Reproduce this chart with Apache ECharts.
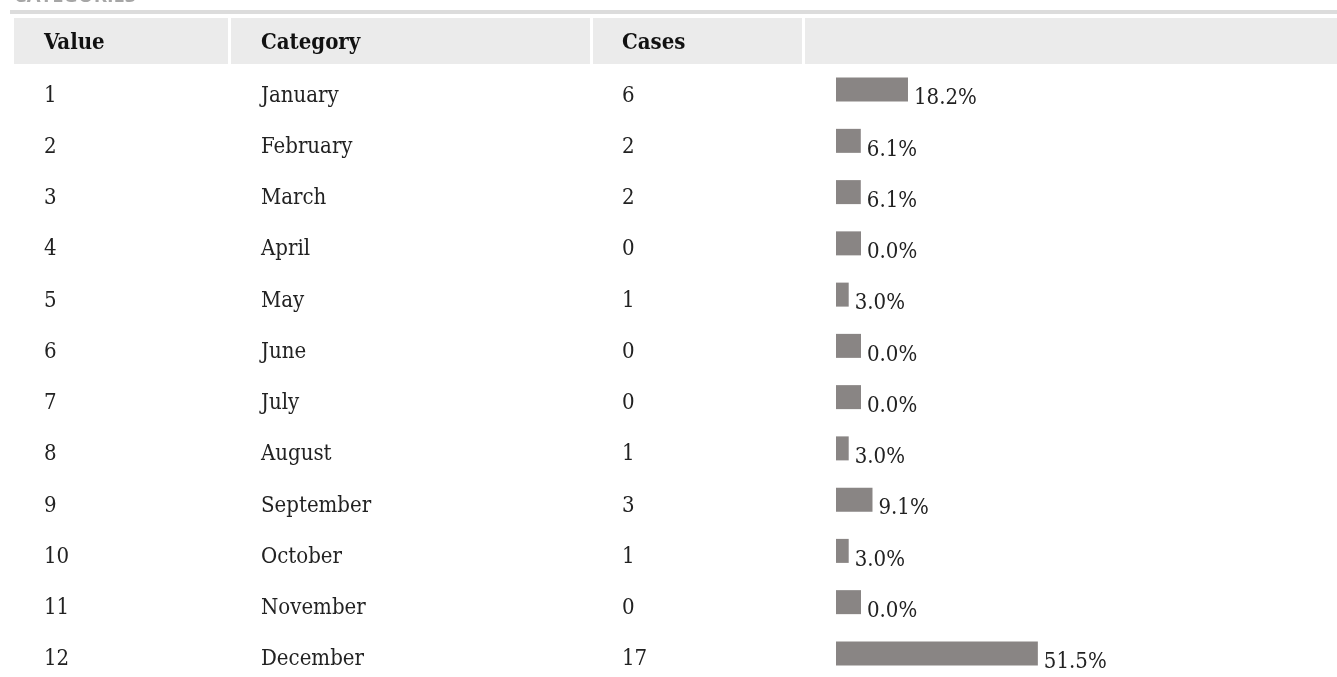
<!DOCTYPE html>
<html>
<head>
<meta charset="utf-8">
<script src="https://cdn.jsdelivr.net/npm/echarts@6/dist/echarts.min.js"></script>
<style>
  html, body { margin: 0; padding: 0; background: #fff; }
  #categories { width: 1337px; height: 677px; }
</style>
</head>
<body>
<div id="categories"></div>
<script>
// table data
var values = ["1", "2", "3", "4", "5", "6", "7", "8", "9", "10", "11", "12"];
var categories = ["January", "February", "March", "April", "May", "June",
  "July", "August", "September", "October", "November", "December"];
var cases = [6, 2, 2, 0, 1, 0, 0, 1, 3, 1, 0, 17];
var percents = [18.2, 6.1, 6.1, 0.0, 3.0, 0.0, 0.0, 3.0, 9.1, 3.0, 0.0, 51.5];
var headers = ["Value", "Category", "Cases"];

var serif = "'DejaVu Serif Condensed', 'DejaVu Serif', serif";
var chartDom = document.getElementById("categories");
var myChart = echarts.init(chartDom);
var option;

// header cells: [x, width]
var headCells = [[14, 214], [231, 359], [593, 209], [805, 532]];
var headGraphic = [
  {
    type: "text", left: 14, top: -14,
    style: { text: "CATEGORIES", fill: "#a6a6a6", font: "bold 20px 'Open Sans', sans-serif" }
  },
  { type: "rect", shape: { x: 10, y: 10, width: 1327, height: 4 }, style: { fill: "#dcdcdc" } }
];
headCells.forEach(function (c) {
  headGraphic.push({ type: "rect", shape: { x: c[0], y: 18, width: c[1], height: 46 }, style: { fill: "#ebebeb" } });
});
var headX = [44, 261, 622];
headers.forEach(function (h, i) {
  headGraphic.push({
    type: "text", x: headX[i], y: 43,
    style: { text: h, fill: "#111", font: "bold 22px " + serif, verticalAlign: "middle" }
  });
});

option = {
  animation: false,
  graphic: headGraphic,
  // rows sit on the category points (boundaryGap off), first row at top
  grid: { left: 836, top: 95.8, width: 390, height: 563.8 },
  xAxis: { type: "value", min: 0, max: 100, show: false },
  yAxis: {
    type: "category",
    inverse: true,
    boundaryGap: false,
    data: values,
    axisLine: { show: false },
    axisTick: { show: false },
    splitLine: { show: false },
    axisLabel: {
      align: "left",
      margin: 792,
      formatter: function (v, i) {
        return "{a|" + v + "}{b|" + categories[i] + "}{c|" + cases[i] + "}";
      },
      rich: {
        a: { width: 217, fontFamily: serif, fontSize: 22, color: "#222" },
        b: { width: 361, fontFamily: serif, fontSize: 22, color: "#222" },
        c: { width: 100, fontFamily: serif, fontSize: 22, color: "#222" }
      }
    }
  },
  series: [
    {
      type: "custom",
      data: percents.map(function (p, i) { return [p, i]; }),
      renderItem: function (params, api) {
        var p = api.value(0);
        var start = api.coord([0, api.value(1)]);
        // zero-width bars fall back to the placeholder image's natural width
        var w = p > 0 ? api.size([p, 0])[0] + 1 : 25;
        var y = start[1] - 18.2;
        return {
          type: "group",
          children: [
            { type: "rect", shape: { x: start[0], y: y, width: w, height: 24 }, style: { fill: "#898584" } },
            {
              type: "text", x: start[0] + w + 6, y: y + 21,
              style: { text: p.toFixed(1) + "%", fill: "#222", font: "22px " + serif, verticalAlign: "middle" }
            }
          ]
        };
      }
    }
  ]
};

option && myChart.setOption(option);
</script>
</body>
</html>
